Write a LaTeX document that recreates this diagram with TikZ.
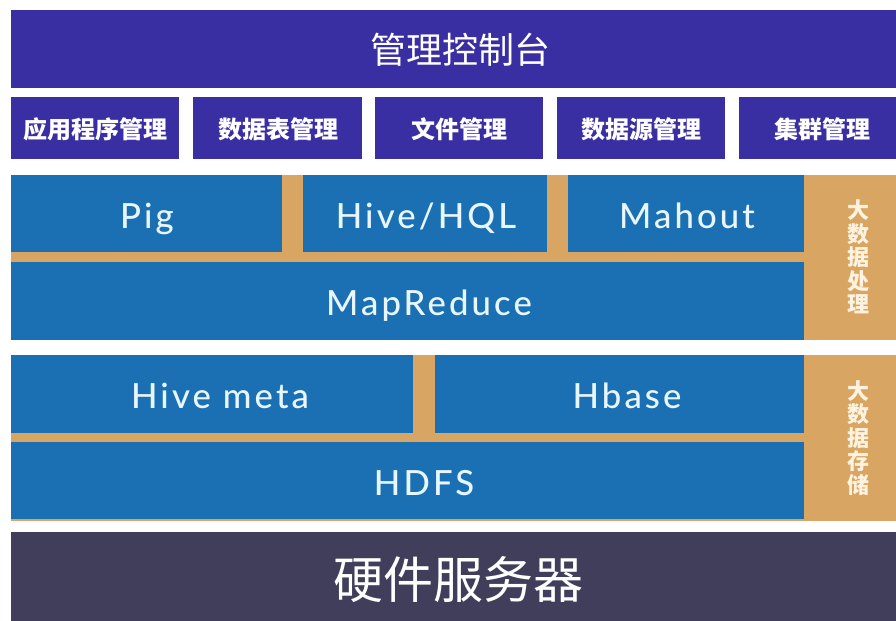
\documentclass[tikz,border=0pt]{standalone}
\usepackage{fontspec}
\newfontfamily\cjk{Noto Sans CJK SC}
\newfontfamily\lat[LetterSpace=9]{Lato Medium}
\definecolor{purp}{HTML}{3A2EA3}
\definecolor{blu}{HTML}{1A70B2}
\definecolor{tan}{HTML}{D8A562}
\definecolor{dark}{HTML}{403E5A}
\definecolor{ltxt}{HTML}{E8F6FF}
\definecolor{tantxt}{HTML}{FFF3E0}
\tikzset{
  x=0.75pt, y=-0.75pt,
  ptxt/.style={inner sep=0pt, text=white, font=\cjk\fontsize{18}{20}\selectfont\bfseries},
  btxt/.style={inner sep=0pt, anchor=base, text=ltxt, font=\lat\fontsize{26}{28}\selectfont},
  vtxt/.style={inner sep=0pt, align=center, text=tantxt, font=\cjk\fontsize{16.5}{17.6}\selectfont\bfseries},
}
\begin{document}
\begin{tikzpicture}
\useasboundingbox[fill=white] (0,0) rectangle (896,621);
% top bar
\fill[purp] (11,10) rectangle (896,88);
\node[ptxt, font=\cjk\fontsize{27}{30}\selectfont] (title) at (460,50) {管理控制台};
% row 2
\fill[purp] (11,97) rectangle (179,159);
\fill[purp] (193,97) rectangle (362,159);
\fill[purp] (375,97) rectangle (543,159);
\fill[purp] (557,97) rectangle (725,159);
\fill[purp] (739,97) rectangle (896,159);
\node[ptxt] (app) at (95,129) {应用程序管理};
\node[ptxt] (tbl) at (278,129) {数据表管理};
\node[ptxt] (file) at (459,129) {文件管理};
\node[ptxt] (src) at (641,129) {数据源管理};
\node[ptxt] (clu) at (822,129) {集群管理};
% processing
\fill[tan] (11,175) rectangle (896,340);
\fill[blu] (11,175) rectangle (282,252);
\fill[blu] (303,175) rectangle (547,252);
\fill[blu] (568,175) rectangle (804,252);
\fill[blu] (11,262) rectangle (804,340);
\node[btxt] (pig) at (147,228) {Pig};
\node[btxt] (hive) at (426,228) {Hive/HQL};
\node[btxt] (mahout) at (687,228) {Mahout};
\node[btxt] (mr) at (429,315) {MapReduce};
\node[vtxt] (proc) at (858,257) {大\\数\\据\\处\\理};
% storage
\fill[tan] (11,355) rectangle (896,521);
\fill[blu] (11,355) rectangle (413,433);
\fill[blu] (435,355) rectangle (804,433);
\fill[blu] (11,442) rectangle (804,519);
\node[btxt] (hmeta) at (220,408) {Hive meta};
\node[btxt] (hbase) at (627,408) {Hbase};
\node[btxt] (hdfs) at (424,495) {HDFS};
\node[vtxt] (stor) at (858,438) {大\\数\\据\\存\\储};
% hardware
\fill[dark] (11,532) rectangle (896,621);
\node[ptxt, font=\cjk\fontsize{37.5}{40}\selectfont, text=white] (hw) at (458,580) {硬件服务器};
\end{tikzpicture}
\end{document}
